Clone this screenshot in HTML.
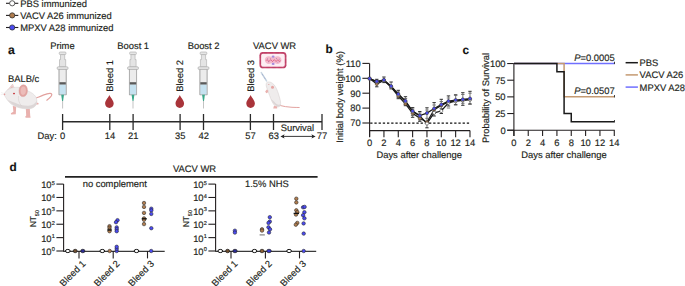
<!DOCTYPE html>
<html><head><meta charset="utf-8"><style>
html,body{margin:0;padding:0;background:#fff;}
body{width:685px;height:286px;overflow:hidden;}
svg{display:block;font-family:"Liberation Sans", sans-serif;text-rendering:geometricPrecision;}
text{stroke:#231f20;stroke-width:0.16px;}
</style></head><body>
<svg width="685" height="286" viewBox="0 0 685 286" font-family='"Liberation Sans", sans-serif'>
<rect width="685" height="286" fill="#fff"/>
<line x1="6" y1="3.3" x2="18.3" y2="3.3" stroke="#231f20" stroke-width="1.1" />
<circle cx="12.2" cy="3.3" r="2.6" fill="#fff" stroke="#333" stroke-width="0.8"/>
<text x="20.2" y="6.5" font-size="9.4" text-anchor="start" font-weight="normal" fill="#231f20" >PBS immunized</text>
<line x1="6" y1="15.399999999999999" x2="18.3" y2="15.399999999999999" stroke="#231f20" stroke-width="1.1" />
<circle cx="12.2" cy="15.399999999999999" r="2.6" fill="#b07d4f" stroke="#333" stroke-width="0.8"/>
<text x="20.2" y="18.599999999999998" font-size="9.4" text-anchor="start" font-weight="normal" fill="#231f20" >VACV A26 immunized</text>
<line x1="6" y1="27.5" x2="18.3" y2="27.5" stroke="#231f20" stroke-width="1.1" />
<circle cx="12.2" cy="27.5" r="2.6" fill="#4b4bf2" stroke="#333" stroke-width="0.8"/>
<text x="20.2" y="30.7" font-size="9.4" text-anchor="start" font-weight="normal" fill="#231f20" >MPXV A28 immunized</text>
<text x="8" y="54.4" font-size="12.2" text-anchor="start" font-weight="bold" fill="#111" >a</text>
<text x="8" y="81.5" font-size="9.4" text-anchor="start" font-weight="normal" fill="#231f20" >BALB/c</text>
<g stroke="#a9a9a9" stroke-width="0.6" fill="#e6e6e6">
<rect x="59.2" y="52" width="6.8" height="2.6" rx="1"/>
<path d="M60.5 54.6 L64.7 54.6 L64.7 59.6 L65.7 59.6 L65.7 66.8 L59.5 66.8 L59.5 59.6 L60.5 59.6 Z" fill="#e4e4e4"/>
<rect x="57.1" y="66.7" width="11" height="2.9" rx="1.3" fill="#e0e0e0"/>
<rect x="59.0" y="69.5" width="7.2" height="25.3" fill="#ececec"/>
</g>
<rect x="59.300000000000004" y="84.4" width="6.6" height="10.2" fill="#c6e2f0"/>
<rect x="59.300000000000004" y="82.2" width="6.6" height="2.3" fill="#5a5a5a"/>
<line x1="59.0" y1="69.5" x2="59.0" y2="94.8" stroke="#a0a0a0" stroke-width="0.6"/>
<line x1="66.2" y1="69.5" x2="66.2" y2="94.8" stroke="#a0a0a0" stroke-width="0.6"/>
<line x1="59.0" y1="94.8" x2="66.2" y2="94.8" stroke="#a0a0a0" stroke-width="0.6"/>
<path d="M61.2 94.8 L64.0 94.8 L63.1 101 L62.1 101 Z" fill="#3aa88a"/>
<line x1="62.6" y1="101" x2="62.6" y2="108.5" stroke="#9a9a9a" stroke-width="0.6" />
<text x="62.4" y="48.8" font-size="9.4" text-anchor="middle" font-weight="normal" fill="#231f20" >Prime</text>
<g stroke="#a9a9a9" stroke-width="0.6" fill="#e6e6e6">
<rect x="129.6" y="52" width="6.8" height="2.6" rx="1"/>
<path d="M130.9 54.6 L135.1 54.6 L135.1 59.6 L136.1 59.6 L136.1 66.8 L129.9 66.8 L129.9 59.6 L130.9 59.6 Z" fill="#e4e4e4"/>
<rect x="127.5" y="66.7" width="11" height="2.9" rx="1.3" fill="#e0e0e0"/>
<rect x="129.4" y="69.5" width="7.2" height="25.3" fill="#ececec"/>
</g>
<rect x="129.7" y="84.4" width="6.6" height="10.2" fill="#c6e2f0"/>
<rect x="129.7" y="82.2" width="6.6" height="2.3" fill="#5a5a5a"/>
<line x1="129.4" y1="69.5" x2="129.4" y2="94.8" stroke="#a0a0a0" stroke-width="0.6"/>
<line x1="136.6" y1="69.5" x2="136.6" y2="94.8" stroke="#a0a0a0" stroke-width="0.6"/>
<line x1="129.4" y1="94.8" x2="136.6" y2="94.8" stroke="#a0a0a0" stroke-width="0.6"/>
<path d="M131.6 94.8 L134.4 94.8 L133.5 101 L132.5 101 Z" fill="#3aa88a"/>
<line x1="133" y1="101" x2="133" y2="108.5" stroke="#9a9a9a" stroke-width="0.6" />
<text x="133.2" y="48.8" font-size="9.4" text-anchor="middle" font-weight="normal" fill="#231f20" >Boost 1</text>
<g stroke="#a9a9a9" stroke-width="0.6" fill="#e6e6e6">
<rect x="200.1" y="52" width="6.8" height="2.6" rx="1"/>
<path d="M201.4 54.6 L205.6 54.6 L205.6 59.6 L206.6 59.6 L206.6 66.8 L200.4 66.8 L200.4 59.6 L201.4 59.6 Z" fill="#e4e4e4"/>
<rect x="198.0" y="66.7" width="11" height="2.9" rx="1.3" fill="#e0e0e0"/>
<rect x="199.9" y="69.5" width="7.2" height="25.3" fill="#ececec"/>
</g>
<rect x="200.2" y="84.4" width="6.6" height="10.2" fill="#c6e2f0"/>
<rect x="200.2" y="82.2" width="6.6" height="2.3" fill="#5a5a5a"/>
<line x1="199.9" y1="69.5" x2="199.9" y2="94.8" stroke="#a0a0a0" stroke-width="0.6"/>
<line x1="207.1" y1="69.5" x2="207.1" y2="94.8" stroke="#a0a0a0" stroke-width="0.6"/>
<line x1="199.9" y1="94.8" x2="207.1" y2="94.8" stroke="#a0a0a0" stroke-width="0.6"/>
<path d="M202.1 94.8 L204.9 94.8 L204.0 101 L203.0 101 Z" fill="#3aa88a"/>
<line x1="203.5" y1="101" x2="203.5" y2="108.5" stroke="#9a9a9a" stroke-width="0.6" />
<text x="203.6" y="48.8" font-size="9.4" text-anchor="middle" font-weight="normal" fill="#231f20" >Boost 2</text>
<path d="M109.4 95 C110.4 97.5 113.7 100.5 113.7 103.6 C113.7 106.3 111.7 107.9 109.4 107.9 C107.10000000000001 107.9 105.10000000000001 106.3 105.10000000000001 103.6 C105.10000000000001 100.5 108.4 97.5 109.4 95 Z" fill="#a9343a"/>
<text transform="translate(112.7,91.8) rotate(-90)" font-size="9.4" fill="#231f20">Bleed 1</text>
<path d="M179.8 95 C180.8 97.5 184.10000000000002 100.5 184.10000000000002 103.6 C184.10000000000002 106.3 182.10000000000002 107.9 179.8 107.9 C177.5 107.9 175.5 106.3 175.5 103.6 C175.5 100.5 178.8 97.5 179.8 95 Z" fill="#a9343a"/>
<text transform="translate(183.10000000000002,91.8) rotate(-90)" font-size="9.4" fill="#231f20">Bleed 2</text>
<path d="M250.6 95 C251.6 97.5 254.9 100.5 254.9 103.6 C254.9 106.3 252.9 107.9 250.6 107.9 C248.29999999999998 107.9 246.29999999999998 106.3 246.29999999999998 103.6 C246.29999999999998 100.5 249.6 97.5 250.6 95 Z" fill="#a9343a"/>
<text transform="translate(253.9,91.8) rotate(-90)" font-size="9.4" fill="#231f20">Bleed 3</text>
<text x="274.6" y="49.3" font-size="9.4" text-anchor="middle" font-weight="normal" fill="#231f20" >VACV WR</text>
<rect x="260.3" y="52.9" width="25.3" height="14.6" rx="2.6" fill="#fdeef3" stroke="#cf4f76" stroke-width="1.6"/>
<rect x="260.3" y="52.9" width="25.3" height="14.6" rx="2.6" fill="none" stroke="#a3284f" stroke-width="1.6" stroke-dasharray="0.5 0.7" opacity="0.7"/>
<path d="M264.8 60 C264.8 57.6 266.6 56.2 268.8 56.2 C270.6 56.2 271.6 57.3 273.1 57.3 C274.6 57.3 275.6 56.2 277.4 56.2 C279.7 56.2 281.5 57.6 281.5 60 C281.5 62.4 279.7 63.9 277.4 63.9 C275.6 63.9 274.6 62.8 273.1 62.8 C271.6 62.8 270.6 63.9 268.8 63.9 C266.6 63.9 264.8 62.4 264.8 60 Z" fill="#f3b9cb"/>
<path d="M266.2 60.6 q0.9 -1.8 1.8 0 t1.8 0 t1.8 0 t1.8 0 t1.8 0 t1.8 0 t1.8 0 t1.6 0" fill="none" stroke="#d43d68" stroke-width="0.7"/>
<path d="M267 58.6 l1 0.5 M270 58.3 l0.8 0.6 M276 58.4 l1 0.4 M279 58.8 l0.7 0.6 M268 62 l0.8 -0.4 M277.5 62.3 l0.9 -0.4" stroke="#7a5aa8" stroke-width="0.5"/>
<ellipse cx="273.1" cy="56.7" rx="1.5" ry="1.1" fill="#a88bdc"/>
<ellipse cx="273.1" cy="63.9" rx="1.5" ry="1.1" fill="#a88bdc"/>
<line x1="62.6" y1="121.7" x2="322" y2="121.7" stroke="#2a2a2a" stroke-width="1.5" />
<line x1="62.6" y1="114" x2="62.6" y2="130" stroke="#2a2a2a" stroke-width="1.3" />
<line x1="109.8" y1="114" x2="109.8" y2="130" stroke="#2a2a2a" stroke-width="1.3" />
<line x1="133.1" y1="114" x2="133.1" y2="130" stroke="#2a2a2a" stroke-width="1.3" />
<line x1="180.1" y1="114" x2="180.1" y2="130" stroke="#2a2a2a" stroke-width="1.3" />
<line x1="203.5" y1="114" x2="203.5" y2="130" stroke="#2a2a2a" stroke-width="1.3" />
<line x1="250.4" y1="114" x2="250.4" y2="130" stroke="#2a2a2a" stroke-width="1.3" />
<line x1="273.5" y1="114" x2="273.5" y2="130" stroke="#2a2a2a" stroke-width="1.3" />
<line x1="322" y1="114" x2="322" y2="130" stroke="#2a2a2a" stroke-width="1.3" />
<text x="37.5" y="139.4" font-size="9.4" text-anchor="start" font-weight="normal" fill="#231f20" >Day:</text>
<text x="62.6" y="139.4" font-size="9.4" text-anchor="middle" font-weight="normal" fill="#231f20" >0</text>
<text x="110" y="139.4" font-size="9.4" text-anchor="middle" font-weight="normal" fill="#231f20" >14</text>
<text x="133.3" y="139.4" font-size="9.4" text-anchor="middle" font-weight="normal" fill="#231f20" >21</text>
<text x="180.3" y="139.4" font-size="9.4" text-anchor="middle" font-weight="normal" fill="#231f20" >35</text>
<text x="203.7" y="139.4" font-size="9.4" text-anchor="middle" font-weight="normal" fill="#231f20" >42</text>
<text x="250.4" y="139.4" font-size="9.4" text-anchor="middle" font-weight="normal" fill="#231f20" >57</text>
<text x="273.8" y="139.4" font-size="9.4" text-anchor="middle" font-weight="normal" fill="#231f20" >63</text>
<text x="322" y="139.4" font-size="9.4" text-anchor="middle" font-weight="normal" fill="#231f20" >77</text>
<text x="297.4" y="130.6" font-size="9.4" text-anchor="middle" font-weight="normal" fill="#231f20" >Survival</text>
<line x1="283" y1="136.4" x2="313" y2="136.4" stroke="#222" stroke-width="0.9" />
<path d="M280.4 136.4 L284.6 134.3 L283.6 136.4 L284.6 138.5 Z" fill="#222"/>
<path d="M315.6 136.4 L311.4 134.3 L312.4 136.4 L311.4 138.5 Z" fill="#222"/>

<g>
 <path d="M36.2 98 C40 96.5 44 94.8 47 93.9 C49.5 93.2 51.6 93.2 51.8 94.4 C52 95.8 50 97.8 46.8 100.2" fill="none" stroke="#e2a09d" stroke-width="1.2" stroke-linecap="round"/>
 <path d="M35 102.2 L38.6 103 L38.4 104.6 L35 104.6 Z" fill="#e9b1ae"/>
 <path d="M25.8 108.2 L26.2 115.6 L25 117 L26 117.8 L30.6 117.8 L30.2 115.6 L29.8 108.2 Z" fill="#e9b1ae"/>
 <path d="M12.8 106 L13.4 111.8 L10.8 113.2 L11.2 114.4 L15.8 114.3 L15.9 112 L16.2 106.6 Z" fill="#e9b1ae"/>
 <path d="M7.6 90 L12.6 84.1 L14.4 88.4 Z" fill="#f1dedd" stroke="#dcb2b0" stroke-width="0.45"/>
 <path d="M10 88.6 L12.3 85.5 L13 88 Z" fill="#e8b8b6"/>
 <path d="M4.2 94.2 C5 92 6.5 90.5 8.5 89.3 C11 87.8 15 87 18.5 87.3 C22 87.8 25 89.5 28 91 C31 92.3 34 94 35.8 96.8 C37.2 99 37.2 102.5 36 105 C34.5 107.5 32 108.6 29 108.8 C25 109 21 108.4 17.5 107.2 C14 106 11.5 104.5 9.5 102.5 C7.5 100.5 6 98 5 96.3 C4.6 95.6 4.2 95 4.2 94.2 Z" fill="#efecec" stroke="#d4cdcd" stroke-width="0.45"/>
 <path d="M7.5 99.8 C10 103 13.5 105.5 17.5 107 C21 108.3 25 108.9 29 108.7 C32 108.5 34.6 107.2 36 105 C36.6 103.6 36.9 102 36.9 100.5 C35.5 103.5 32.5 105.6 28.5 105.8 C24 106 19 104.6 15 102.8 C12 101.6 9.5 100.8 7.5 99.8 Z" fill="#dcd6d6"/>
 <path d="M18.5 96 C18 99.5 19 103 21.5 106" fill="none" stroke="#d2cbcb" stroke-width="0.5"/>
 <path d="M23.2 84.8 C26 84.6 27.6 87.5 27.4 91 C27.2 94.5 25.4 96.8 22.6 96.6 C20 96.4 18.8 93.5 19 90.5 C19.2 87.3 20.8 85 23.2 84.8 Z" fill="#e2a4a1" stroke="#d69592" stroke-width="0.4"/>
 <path d="M23.3 86.5 C25.2 86.5 26 88.6 25.9 91 C25.8 93.4 24.6 95 22.9 94.9 C21.2 94.8 20.5 92.8 20.6 90.6 C20.7 88.3 21.7 86.5 23.3 86.5 Z" fill="#ecbcb9"/>
 <ellipse cx="14" cy="93.6" rx="1.0" ry="0.8" fill="#c8343a"/>
 <circle cx="4.5" cy="94.4" r="0.8" fill="#e59c9c"/>
 <path d="M1 92.5 L4 93.5 M0.8 94.5 L3.8 94.6" stroke="#e0dada" stroke-width="0.35"/>
</g>

<g>
 <line x1="261.2" y1="72.5" x2="266.6" y2="81" stroke="#c9d6e2" stroke-width="1.4" stroke-linecap="round"/>
 <line x1="262.2" y1="74.2" x2="265.8" y2="79.8" stroke="#5a6aa8" stroke-width="0.55" stroke-dasharray="0.7 0.9"/>
 <path d="M279.5 105.4 C283 106.4 288 107.1 292 107.3 C295 107.4 297.5 107.5 299.2 107.5" fill="none" stroke="#e3a3a0" stroke-width="1" stroke-linecap="round"/>
 <path d="M266.8 82.5 C268 81.5 271 81.6 273.8 84.5 C276 87 277.5 90.5 278.8 95 C280 99 281.2 103 280.4 105.6 C279.5 107.2 277 107.3 275.5 106.3 C273 104.5 271.2 100 269.7 95.7 C268.5 92.5 267.3 89.5 266.5 87 C266 85.5 266 83.5 266.8 82.5 Z" fill="#efecec" stroke="#d2caca" stroke-width="0.5"/>
 <path d="M271 99 C273 103 275 105.5 277.5 106.5 C279.5 106.8 280.6 105.6 280.6 104 C279 105.5 276.5 104.5 274.5 102 Z" fill="#dcd6d6"/>
 <circle cx="272.5" cy="87.3" r="1.5" fill="#e6a5a3"/>
 <circle cx="268.9" cy="84.6" r="0.45" fill="#c83a3a"/>
 <path d="M266.8 89.5 L265.2 91.5 L266.2 93.3 L267.6 92.8 L268.4 90.8 Z" fill="#e9b1ae"/>
 <path d="M274 105.8 L273.2 108.4 L277.2 108.5 L277 106.4 Z" fill="#e9b1ae"/>
</g>
<text x="325.6" y="52.6" font-size="11.8" text-anchor="start" font-weight="bold" fill="#111" >b</text>
<text transform="translate(343.2,97) rotate(-90)" font-size="9.4" text-anchor="middle" fill="#231f20">Initial body weight (%)</text>
<line x1="369.6" y1="63.4" x2="369.6" y2="136.8" stroke="#231f20" stroke-width="1.1" />
<line x1="369.1" y1="130.6" x2="470" y2="130.6" stroke="#231f20" stroke-width="1.1" />
<line x1="362.4" y1="63.4" x2="369.6" y2="63.4" stroke="#231f20" stroke-width="1.1" />
<text x="360.8" y="66.7" font-size="9.4" text-anchor="end" font-weight="normal" fill="#231f20" >110</text>
<line x1="362.4" y1="78.3" x2="369.6" y2="78.3" stroke="#231f20" stroke-width="1.1" />
<text x="360.8" y="81.6" font-size="9.4" text-anchor="end" font-weight="normal" fill="#231f20" >100</text>
<line x1="362.4" y1="93.2" x2="369.6" y2="93.2" stroke="#231f20" stroke-width="1.1" />
<text x="360.8" y="96.5" font-size="9.4" text-anchor="end" font-weight="normal" fill="#231f20" >90</text>
<line x1="362.4" y1="108.1" x2="369.6" y2="108.1" stroke="#231f20" stroke-width="1.1" />
<text x="360.8" y="111.39999999999999" font-size="9.4" text-anchor="end" font-weight="normal" fill="#231f20" >80</text>
<line x1="362.4" y1="123.0" x2="369.6" y2="123.0" stroke="#231f20" stroke-width="1.1" />
<text x="360.8" y="126.3" font-size="9.4" text-anchor="end" font-weight="normal" fill="#231f20" >70</text>
<line x1="369.6" y1="130.6" x2="369.6" y2="137.2" stroke="#231f20" stroke-width="1.1" />
<text x="369.6" y="145.9" font-size="9.4" text-anchor="middle" font-weight="normal" fill="#231f20" >0</text>
<line x1="383.94" y1="130.6" x2="383.94" y2="137.2" stroke="#231f20" stroke-width="1.1" />
<text x="383.94" y="145.9" font-size="9.4" text-anchor="middle" font-weight="normal" fill="#231f20" >2</text>
<line x1="398.28000000000003" y1="130.6" x2="398.28000000000003" y2="137.2" stroke="#231f20" stroke-width="1.1" />
<text x="398.28000000000003" y="145.9" font-size="9.4" text-anchor="middle" font-weight="normal" fill="#231f20" >4</text>
<line x1="412.62" y1="130.6" x2="412.62" y2="137.2" stroke="#231f20" stroke-width="1.1" />
<text x="412.62" y="145.9" font-size="9.4" text-anchor="middle" font-weight="normal" fill="#231f20" >6</text>
<line x1="426.96000000000004" y1="130.6" x2="426.96000000000004" y2="137.2" stroke="#231f20" stroke-width="1.1" />
<text x="426.96000000000004" y="145.9" font-size="9.4" text-anchor="middle" font-weight="normal" fill="#231f20" >8</text>
<line x1="441.3" y1="130.6" x2="441.3" y2="137.2" stroke="#231f20" stroke-width="1.1" />
<text x="441.3" y="145.9" font-size="9.4" text-anchor="middle" font-weight="normal" fill="#231f20" >10</text>
<line x1="455.64" y1="130.6" x2="455.64" y2="137.2" stroke="#231f20" stroke-width="1.1" />
<text x="455.64" y="145.9" font-size="9.4" text-anchor="middle" font-weight="normal" fill="#231f20" >12</text>
<line x1="469.98" y1="130.6" x2="469.98" y2="137.2" stroke="#231f20" stroke-width="1.1" />
<text x="469.98" y="145.9" font-size="9.4" text-anchor="middle" font-weight="normal" fill="#231f20" >14</text>
<text x="419.2" y="158.3" font-size="9.4" text-anchor="middle" font-weight="normal" fill="#231f20" >Days after challenge</text>
<line x1="370.20000000000005" y1="123.2" x2="470" y2="123.2" stroke="#111" stroke-width="1.25" stroke-dasharray="2.3 1.9"/>
<line x1="376.77000000000004" y1="79.3" x2="376.77000000000004" y2="86.8" stroke="#8a8a8a" stroke-width="1.2" />
<line x1="375.07000000000005" y1="79.3" x2="378.47" y2="79.3" stroke="#1e1e1e" stroke-width="0.9" />
<line x1="375.07000000000005" y1="86.8" x2="378.47" y2="86.8" stroke="#1e1e1e" stroke-width="0.9" />
<line x1="383.94" y1="77.0" x2="383.94" y2="82.6" stroke="#8a8a8a" stroke-width="1.2" />
<line x1="382.24" y1="77.0" x2="385.64" y2="77.0" stroke="#1e1e1e" stroke-width="0.9" />
<line x1="382.24" y1="82.6" x2="385.64" y2="82.6" stroke="#1e1e1e" stroke-width="0.9" />
<line x1="391.11" y1="82.0" x2="391.11" y2="88.9" stroke="#8a8a8a" stroke-width="1.2" />
<line x1="389.41" y1="82.0" x2="392.81" y2="82.0" stroke="#1e1e1e" stroke-width="0.9" />
<line x1="389.41" y1="88.9" x2="392.81" y2="88.9" stroke="#1e1e1e" stroke-width="0.9" />
<line x1="398.28000000000003" y1="90.3" x2="398.28000000000003" y2="98.7" stroke="#8a8a8a" stroke-width="1.2" />
<line x1="396.58000000000004" y1="90.3" x2="399.98" y2="90.3" stroke="#1e1e1e" stroke-width="0.9" />
<line x1="396.58000000000004" y1="98.7" x2="399.98" y2="98.7" stroke="#1e1e1e" stroke-width="0.9" />
<line x1="396.58000000000004" y1="92.0" x2="399.98" y2="92.0" stroke="#6a6a6a" stroke-width="0.9" />
<line x1="396.58000000000004" y1="97.5" x2="399.98" y2="97.5" stroke="#6a6a6a" stroke-width="0.9" />
<line x1="405.45000000000005" y1="96.7" x2="405.45000000000005" y2="105.7" stroke="#8a8a8a" stroke-width="1.2" />
<line x1="403.75000000000006" y1="96.7" x2="407.15000000000003" y2="96.7" stroke="#1e1e1e" stroke-width="0.9" />
<line x1="403.75000000000006" y1="105.7" x2="407.15000000000003" y2="105.7" stroke="#1e1e1e" stroke-width="0.9" />
<line x1="403.75000000000006" y1="98.5" x2="407.15000000000003" y2="98.5" stroke="#6a6a6a" stroke-width="0.9" />
<line x1="403.75000000000006" y1="104.5" x2="407.15000000000003" y2="104.5" stroke="#6a6a6a" stroke-width="0.9" />
<line x1="412.62" y1="107.6" x2="412.62" y2="117.3" stroke="#8a8a8a" stroke-width="1.2" />
<line x1="410.92" y1="107.6" x2="414.32" y2="107.6" stroke="#1e1e1e" stroke-width="0.9" />
<line x1="410.92" y1="117.3" x2="414.32" y2="117.3" stroke="#1e1e1e" stroke-width="0.9" />
<line x1="410.92" y1="109" x2="414.32" y2="109" stroke="#6a6a6a" stroke-width="0.9" />
<line x1="410.92" y1="115.5" x2="414.32" y2="115.5" stroke="#6a6a6a" stroke-width="0.9" />
<line x1="419.79" y1="111.5" x2="419.79" y2="121.3" stroke="#8a8a8a" stroke-width="1.2" />
<line x1="418.09000000000003" y1="111.5" x2="421.49" y2="111.5" stroke="#1e1e1e" stroke-width="0.9" />
<line x1="418.09000000000003" y1="121.3" x2="421.49" y2="121.3" stroke="#1e1e1e" stroke-width="0.9" />
<line x1="418.09000000000003" y1="113" x2="421.49" y2="113" stroke="#6a6a6a" stroke-width="0.9" />
<line x1="418.09000000000003" y1="120" x2="421.49" y2="120" stroke="#6a6a6a" stroke-width="0.9" />
<line x1="426.96000000000004" y1="107.8" x2="426.96000000000004" y2="127.8" stroke="#8a8a8a" stroke-width="1.2" />
<line x1="425.26000000000005" y1="107.8" x2="428.66" y2="107.8" stroke="#1e1e1e" stroke-width="0.9" />
<line x1="425.26000000000005" y1="127.8" x2="428.66" y2="127.8" stroke="#1e1e1e" stroke-width="0.9" />
<line x1="425.26000000000005" y1="118.3" x2="428.66" y2="118.3" stroke="#6a6a6a" stroke-width="0.9" />
<line x1="425.26000000000005" y1="110" x2="428.66" y2="110" stroke="#6a6a6a" stroke-width="0.9" />
<line x1="434.13" y1="102.6" x2="434.13" y2="116.0" stroke="#8a8a8a" stroke-width="1.2" />
<line x1="432.43" y1="102.6" x2="435.83" y2="102.6" stroke="#1e1e1e" stroke-width="0.9" />
<line x1="432.43" y1="116.0" x2="435.83" y2="116.0" stroke="#1e1e1e" stroke-width="0.9" />
<line x1="432.43" y1="105" x2="435.83" y2="105" stroke="#6a6a6a" stroke-width="0.9" />
<line x1="432.43" y1="113.5" x2="435.83" y2="113.5" stroke="#6a6a6a" stroke-width="0.9" />
<line x1="441.3" y1="99.3" x2="441.3" y2="113.5" stroke="#8a8a8a" stroke-width="1.2" />
<line x1="439.6" y1="99.3" x2="443.0" y2="99.3" stroke="#1e1e1e" stroke-width="0.9" />
<line x1="439.6" y1="113.5" x2="443.0" y2="113.5" stroke="#1e1e1e" stroke-width="0.9" />
<line x1="439.6" y1="101.5" x2="443.0" y2="101.5" stroke="#6a6a6a" stroke-width="0.9" />
<line x1="439.6" y1="108.5" x2="443.0" y2="108.5" stroke="#6a6a6a" stroke-width="0.9" />
<line x1="448.47" y1="95.9" x2="448.47" y2="106.0" stroke="#8a8a8a" stroke-width="1.2" />
<line x1="446.77000000000004" y1="95.9" x2="450.17" y2="95.9" stroke="#1e1e1e" stroke-width="0.9" />
<line x1="446.77000000000004" y1="106.0" x2="450.17" y2="106.0" stroke="#1e1e1e" stroke-width="0.9" />
<line x1="446.77000000000004" y1="98" x2="450.17" y2="98" stroke="#6a6a6a" stroke-width="0.9" />
<line x1="446.77000000000004" y1="108" x2="450.17" y2="108" stroke="#6a6a6a" stroke-width="0.9" />
<line x1="455.64" y1="94.8" x2="455.64" y2="104.6" stroke="#8a8a8a" stroke-width="1.2" />
<line x1="453.94" y1="94.8" x2="457.34" y2="94.8" stroke="#1e1e1e" stroke-width="0.9" />
<line x1="453.94" y1="104.6" x2="457.34" y2="104.6" stroke="#1e1e1e" stroke-width="0.9" />
<line x1="453.94" y1="95.3" x2="457.34" y2="95.3" stroke="#6a6a6a" stroke-width="0.9" />
<line x1="453.94" y1="105" x2="457.34" y2="105" stroke="#6a6a6a" stroke-width="0.9" />
<line x1="462.81" y1="92.7" x2="462.81" y2="105.3" stroke="#8a8a8a" stroke-width="1.2" />
<line x1="461.11" y1="92.7" x2="464.51" y2="92.7" stroke="#1e1e1e" stroke-width="0.9" />
<line x1="461.11" y1="105.3" x2="464.51" y2="105.3" stroke="#1e1e1e" stroke-width="0.9" />
<line x1="461.11" y1="94.5" x2="464.51" y2="94.5" stroke="#6a6a6a" stroke-width="0.9" />
<line x1="461.11" y1="103.3" x2="464.51" y2="103.3" stroke="#6a6a6a" stroke-width="0.9" />
<line x1="469.98" y1="91.3" x2="469.98" y2="103.9" stroke="#8a8a8a" stroke-width="1.2" />
<line x1="468.28000000000003" y1="91.3" x2="471.68" y2="91.3" stroke="#1e1e1e" stroke-width="0.9" />
<line x1="468.28000000000003" y1="103.9" x2="471.68" y2="103.9" stroke="#1e1e1e" stroke-width="0.9" />
<line x1="468.28000000000003" y1="93.2" x2="471.68" y2="93.2" stroke="#6a6a6a" stroke-width="0.9" />
<line x1="468.28000000000003" y1="104.4" x2="471.68" y2="104.4" stroke="#6a6a6a" stroke-width="0.9" />
<polyline points="369.60,78.60 376.77,81.80 383.94,80.40 391.11,86.80 398.28,94.70 405.45,101.60 412.62,111.60 419.79,116.00 426.96,123.50 434.13,112.80 441.30,111.00 448.47,102.80 455.64,101.20 462.81,100.30 469.98,99.60" fill="none" stroke="#1a1a1a" stroke-width="1.25"/>
<polyline points="369.60,78.60 376.77,84.00 383.94,80.50 391.11,87.00 398.28,96.10 405.45,103.90 412.62,113.30 419.79,118.30 426.96,122.20 434.13,109.60 441.30,105.40 448.47,101.90 455.64,100.80 462.81,100.20 469.98,99.30" fill="none" stroke="#1a1a1a" stroke-width="1.25"/>
<polyline points="369.60,78.60 376.77,81.30 383.94,79.90 391.11,86.10 398.28,94.00 405.45,100.90 412.62,111.00 419.79,115.60 426.96,113.10 434.13,108.50 441.30,104.60 448.47,101.10 455.64,100.00 462.81,99.40 469.98,98.50" fill="none" stroke="#1a1a1a" stroke-width="1.25"/>
<circle cx="369.60" cy="78.6" r="1.6" fill="#b07d4f" stroke="#333" stroke-width="0.5"/>
<circle cx="376.77" cy="84.0" r="1.6" fill="#b07d4f" stroke="#333" stroke-width="0.5"/>
<circle cx="383.94" cy="80.5" r="1.6" fill="#b07d4f" stroke="#333" stroke-width="0.5"/>
<circle cx="391.11" cy="87.0" r="1.6" fill="#b07d4f" stroke="#333" stroke-width="0.5"/>
<circle cx="398.28" cy="96.1" r="1.6" fill="#b07d4f" stroke="#333" stroke-width="0.5"/>
<circle cx="405.45" cy="103.9" r="1.6" fill="#b07d4f" stroke="#333" stroke-width="0.5"/>
<circle cx="412.62" cy="113.3" r="1.6" fill="#b07d4f" stroke="#333" stroke-width="0.5"/>
<circle cx="419.79" cy="118.3" r="1.6" fill="#b07d4f" stroke="#333" stroke-width="0.5"/>
<circle cx="426.96" cy="122.2" r="1.6" fill="#b07d4f" stroke="#333" stroke-width="0.5"/>
<circle cx="434.13" cy="109.6" r="1.6" fill="#b07d4f" stroke="#333" stroke-width="0.5"/>
<circle cx="441.30" cy="105.4" r="1.6" fill="#b07d4f" stroke="#333" stroke-width="0.5"/>
<circle cx="448.47" cy="101.9" r="1.6" fill="#b07d4f" stroke="#333" stroke-width="0.5"/>
<circle cx="455.64" cy="100.8" r="1.6" fill="#b07d4f" stroke="#333" stroke-width="0.5"/>
<circle cx="462.81" cy="100.2" r="1.6" fill="#b07d4f" stroke="#333" stroke-width="0.5"/>
<circle cx="469.98" cy="99.3" r="1.6" fill="#b07d4f" stroke="#333" stroke-width="0.5"/>
<circle cx="369.60" cy="78.6" r="1.6" fill="#fff" stroke="#333" stroke-width="0.5"/>
<circle cx="376.77" cy="81.8" r="1.6" fill="#fff" stroke="#333" stroke-width="0.5"/>
<circle cx="383.94" cy="80.4" r="1.6" fill="#fff" stroke="#333" stroke-width="0.5"/>
<circle cx="391.11" cy="86.8" r="1.6" fill="#fff" stroke="#333" stroke-width="0.5"/>
<circle cx="398.28" cy="94.7" r="1.6" fill="#fff" stroke="#333" stroke-width="0.5"/>
<circle cx="405.45" cy="101.6" r="1.6" fill="#fff" stroke="#333" stroke-width="0.5"/>
<circle cx="412.62" cy="111.6" r="1.6" fill="#fff" stroke="#333" stroke-width="0.5"/>
<circle cx="419.79" cy="116.0" r="1.6" fill="#fff" stroke="#333" stroke-width="0.5"/>
<circle cx="426.96" cy="123.5" r="1.6" fill="#fff" stroke="#333" stroke-width="0.5"/>
<circle cx="434.13" cy="112.8" r="1.6" fill="#fff" stroke="#333" stroke-width="0.5"/>
<circle cx="441.30" cy="111.0" r="1.6" fill="#fff" stroke="#333" stroke-width="0.5"/>
<circle cx="448.47" cy="102.8" r="1.6" fill="#fff" stroke="#333" stroke-width="0.5"/>
<circle cx="455.64" cy="101.2" r="1.6" fill="#fff" stroke="#333" stroke-width="0.5"/>
<circle cx="462.81" cy="100.3" r="1.6" fill="#fff" stroke="#333" stroke-width="0.5"/>
<circle cx="469.98" cy="99.6" r="1.6" fill="#fff" stroke="#333" stroke-width="0.5"/>
<circle cx="369.60" cy="78.6" r="1.6" fill="#4b4bf2" stroke="#333" stroke-width="0.5"/>
<circle cx="376.77" cy="81.3" r="1.6" fill="#4b4bf2" stroke="#333" stroke-width="0.5"/>
<circle cx="383.94" cy="79.9" r="1.6" fill="#4b4bf2" stroke="#333" stroke-width="0.5"/>
<circle cx="391.11" cy="86.1" r="1.6" fill="#4b4bf2" stroke="#333" stroke-width="0.5"/>
<circle cx="398.28" cy="94.0" r="1.6" fill="#4b4bf2" stroke="#333" stroke-width="0.5"/>
<circle cx="405.45" cy="100.9" r="1.6" fill="#4b4bf2" stroke="#333" stroke-width="0.5"/>
<circle cx="412.62" cy="111.0" r="1.6" fill="#4b4bf2" stroke="#333" stroke-width="0.5"/>
<circle cx="419.79" cy="115.6" r="1.6" fill="#4b4bf2" stroke="#333" stroke-width="0.5"/>
<circle cx="426.96" cy="113.1" r="1.6" fill="#4b4bf2" stroke="#333" stroke-width="0.5"/>
<circle cx="434.13" cy="108.5" r="1.6" fill="#4b4bf2" stroke="#333" stroke-width="0.5"/>
<circle cx="441.30" cy="104.6" r="1.6" fill="#4b4bf2" stroke="#333" stroke-width="0.5"/>
<circle cx="448.47" cy="101.1" r="1.6" fill="#4b4bf2" stroke="#333" stroke-width="0.5"/>
<circle cx="455.64" cy="100.0" r="1.6" fill="#4b4bf2" stroke="#333" stroke-width="0.5"/>
<circle cx="462.81" cy="99.4" r="1.6" fill="#4b4bf2" stroke="#333" stroke-width="0.5"/>
<circle cx="469.98" cy="98.5" r="1.6" fill="#4b4bf2" stroke="#333" stroke-width="0.5"/>
<text x="462.4" y="53.8" font-size="11.8" text-anchor="start" font-weight="bold" fill="#111" >c</text>
<text transform="translate(488.8,98) rotate(-90)" font-size="9.4" text-anchor="middle" fill="#231f20">Probability of Survival</text>
<line x1="513.9" y1="63.2" x2="513.9" y2="136" stroke="#231f20" stroke-width="1.1" />
<line x1="507.2" y1="130.2" x2="614.8" y2="130.2" stroke="#231f20" stroke-width="1.1" />
<line x1="507.2" y1="63.53999999999999" x2="513.9" y2="63.53999999999999" stroke="#231f20" stroke-width="1.1" />
<text x="505.6" y="66.83999999999999" font-size="9.4" text-anchor="end" font-weight="normal" fill="#231f20" >100</text>
<line x1="507.2" y1="80.20499999999998" x2="513.9" y2="80.20499999999998" stroke="#231f20" stroke-width="1.1" />
<text x="505.6" y="83.50499999999998" font-size="9.4" text-anchor="end" font-weight="normal" fill="#231f20" >75</text>
<line x1="507.2" y1="96.86999999999999" x2="513.9" y2="96.86999999999999" stroke="#231f20" stroke-width="1.1" />
<text x="505.6" y="100.16999999999999" font-size="9.4" text-anchor="end" font-weight="normal" fill="#231f20" >50</text>
<line x1="507.2" y1="113.535" x2="513.9" y2="113.535" stroke="#231f20" stroke-width="1.1" />
<text x="505.6" y="116.835" font-size="9.4" text-anchor="end" font-weight="normal" fill="#231f20" >25</text>
<line x1="507.2" y1="130.2" x2="513.9" y2="130.2" stroke="#231f20" stroke-width="1.1" />
<text x="505.6" y="133.5" font-size="9.4" text-anchor="end" font-weight="normal" fill="#231f20" >0</text>
<line x1="513.9" y1="130.2" x2="513.9" y2="136" stroke="#231f20" stroke-width="1.1" />
<text x="513.9" y="145.9" font-size="9.4" text-anchor="middle" font-weight="normal" fill="#231f20" >0</text>
<line x1="528.24" y1="130.2" x2="528.24" y2="136" stroke="#231f20" stroke-width="1.1" />
<text x="528.24" y="145.9" font-size="9.4" text-anchor="middle" font-weight="normal" fill="#231f20" >2</text>
<line x1="542.5799999999999" y1="130.2" x2="542.5799999999999" y2="136" stroke="#231f20" stroke-width="1.1" />
<text x="542.5799999999999" y="145.9" font-size="9.4" text-anchor="middle" font-weight="normal" fill="#231f20" >4</text>
<line x1="556.92" y1="130.2" x2="556.92" y2="136" stroke="#231f20" stroke-width="1.1" />
<text x="556.92" y="145.9" font-size="9.4" text-anchor="middle" font-weight="normal" fill="#231f20" >6</text>
<line x1="571.26" y1="130.2" x2="571.26" y2="136" stroke="#231f20" stroke-width="1.1" />
<text x="571.26" y="145.9" font-size="9.4" text-anchor="middle" font-weight="normal" fill="#231f20" >8</text>
<line x1="585.6" y1="130.2" x2="585.6" y2="136" stroke="#231f20" stroke-width="1.1" />
<text x="585.6" y="145.9" font-size="9.4" text-anchor="middle" font-weight="normal" fill="#231f20" >10</text>
<line x1="599.9399999999999" y1="130.2" x2="599.9399999999999" y2="136" stroke="#231f20" stroke-width="1.1" />
<text x="599.9399999999999" y="145.9" font-size="9.4" text-anchor="middle" font-weight="normal" fill="#231f20" >12</text>
<line x1="614.28" y1="130.2" x2="614.28" y2="136" stroke="#231f20" stroke-width="1.1" />
<text x="614.28" y="145.9" font-size="9.4" text-anchor="middle" font-weight="normal" fill="#231f20" >14</text>
<text x="564" y="158.3" font-size="9.4" text-anchor="middle" font-weight="normal" fill="#231f20" >Days after challenge</text>
<polyline points="513.9,63.53999999999999 614.28,63.53999999999999" fill="none" stroke="#7070ff" stroke-width="1.5"/>
<polyline points="513.9,63.53999999999999 564.0899999999999,63.53999999999999 564.0899999999999,96.86999999999999 614.28,96.86999999999999" fill="none" stroke="#c49a72" stroke-width="1.5"/>
<polyline points="513.9,63.53999999999999 556.92,63.53999999999999 556.92,71.87249999999999 564.0899999999999,71.87249999999999 564.0899999999999,113.535 571.26,113.535 571.26,121.86749999999999 614.28,121.86749999999999" fill="none" stroke="#1a1a1a" stroke-width="1.5"/>
<line x1="614.48" y1="61.739999999999995" x2="614.48" y2="64.13999999999999" stroke="#222" stroke-width="0.9" />
<line x1="614.48" y1="95.07" x2="614.48" y2="97.46999999999998" stroke="#222" stroke-width="0.9" />
<line x1="614.48" y1="120.0675" x2="614.48" y2="122.46749999999999" stroke="#222" stroke-width="0.9" />
<text x="574.3" y="60.6" font-size="9.4" fill="#231f20"><tspan font-style="italic">P</tspan>=0.0005</text>
<text x="574.3" y="93.5" font-size="9.4" fill="#231f20"><tspan font-style="italic">P</tspan>=0.0507</text>
<line x1="625.6" y1="62.7" x2="637.9" y2="62.7" stroke="#1a1a1a" stroke-width="1.5" />
<text x="639.6" y="66.10000000000001" font-size="9.4" text-anchor="start" font-weight="normal" fill="#231f20" >PBS</text>
<line x1="625.6" y1="74.9" x2="637.9" y2="74.9" stroke="#c49a72" stroke-width="1.5" />
<text x="639.6" y="78.30000000000001" font-size="9.4" text-anchor="start" font-weight="normal" fill="#231f20" >VACV A26</text>
<line x1="625.6" y1="87.1" x2="637.9" y2="87.1" stroke="#7070ff" stroke-width="1.5" />
<text x="639.6" y="90.5" font-size="9.4" text-anchor="start" font-weight="normal" fill="#231f20" >MPXV A28</text>
<text x="9.6" y="170.7" font-size="11.8" text-anchor="start" font-weight="bold" fill="#111" >d</text>
<text x="194.5" y="171.7" font-size="9.4" text-anchor="middle" font-weight="normal" fill="#231f20" >VACV WR</text>
<line x1="65" y1="176.9" x2="317.6" y2="176.9" stroke="#222" stroke-width="1.7" />
<text x="82.7" y="187.2" font-size="9.4" text-anchor="start" font-weight="normal" fill="#231f20" >no complement</text>
<text x="245" y="186.9" font-size="9.4" text-anchor="start" font-weight="normal" fill="#231f20" >1.5% NHS</text>
<line x1="63.6" y1="184.1" x2="63.6" y2="251" stroke="#231f20" stroke-width="1.1" />
<line x1="63.1" y1="251.4" x2="164.7" y2="251.4" stroke="#3a3a3a" stroke-width="1.1" />
<line x1="56.4" y1="251.0" x2="63.6" y2="251.0" stroke="#231f20" stroke-width="1.1" />
<text x="51.6" y="254.9" font-size="9.4" text-anchor="end" fill="#231f20">10</text>
<text x="51.8" y="251.4" font-size="5.6" fill="#231f20">0</text>
<line x1="56.4" y1="237.62" x2="63.6" y2="237.62" stroke="#231f20" stroke-width="1.1" />
<text x="51.6" y="241.52" font-size="9.4" text-anchor="end" fill="#231f20">10</text>
<text x="51.8" y="238.02" font-size="5.6" fill="#231f20">1</text>
<line x1="56.4" y1="224.24" x2="63.6" y2="224.24" stroke="#231f20" stroke-width="1.1" />
<text x="51.6" y="228.14000000000001" font-size="9.4" text-anchor="end" fill="#231f20">10</text>
<text x="51.8" y="224.64000000000001" font-size="5.6" fill="#231f20">2</text>
<line x1="56.4" y1="210.86" x2="63.6" y2="210.86" stroke="#231f20" stroke-width="1.1" />
<text x="51.6" y="214.76000000000002" font-size="9.4" text-anchor="end" fill="#231f20">10</text>
<text x="51.8" y="211.26000000000002" font-size="5.6" fill="#231f20">3</text>
<line x1="56.4" y1="197.48" x2="63.6" y2="197.48" stroke="#231f20" stroke-width="1.1" />
<text x="51.6" y="201.38" font-size="9.4" text-anchor="end" fill="#231f20">10</text>
<text x="51.8" y="197.88" font-size="5.6" fill="#231f20">4</text>
<line x1="56.4" y1="184.1" x2="63.6" y2="184.1" stroke="#231f20" stroke-width="1.1" />
<text x="51.6" y="188.0" font-size="9.4" text-anchor="end" fill="#231f20">10</text>
<text x="51.8" y="184.5" font-size="5.6" fill="#231f20">5</text>
<line x1="79" y1="251" x2="79" y2="258.4" stroke="#231f20" stroke-width="1.1" />
<line x1="113.2" y1="251" x2="113.2" y2="258.4" stroke="#231f20" stroke-width="1.1" />
<line x1="147.5" y1="251" x2="147.5" y2="258.4" stroke="#231f20" stroke-width="1.1" />
<text transform="translate(36.3,227.3) rotate(-90)" font-size="8.5" fill="#231f20">NT<tspan font-size="5.5" dx="-0.2" dy="2.9">50</tspan></text>
<text transform="translate(86.1,264.4) rotate(-45)" font-size="9.4" text-anchor="end" fill="#231f20">Bleed 1</text>
<text transform="translate(120.3,264.4) rotate(-45)" font-size="9.4" text-anchor="end" fill="#231f20">Bleed 2</text>
<text transform="translate(154.6,264.4) rotate(-45)" font-size="9.4" text-anchor="end" fill="#231f20">Bleed 3</text>
<ellipse cx="67.8" cy="251" rx="2.35" ry="1.6" fill="#fff" stroke="#111" stroke-width="1.0"/>
<ellipse cx="75.2" cy="251" rx="2.0" ry="1.75" fill="#6e4e30" stroke="#1a1a1a" stroke-width="0.7"/>
<ellipse cx="82.8" cy="251" rx="2.1" ry="1.75" fill="#2c2c92" stroke="#1a1a1a" stroke-width="0.7"/>
<ellipse cx="102.3" cy="251" rx="2.35" ry="1.6" fill="#fff" stroke="#111" stroke-width="1.0"/>
<circle cx="109.7" cy="251" r="1.75" fill="#b07d4f" stroke="#222" stroke-width="0.55"/>
<circle cx="116.7" cy="251" r="1.75" fill="#4b4bf2" stroke="#222" stroke-width="0.55"/>
<circle cx="116.7" cy="248.8" r="1.75" fill="#4b4bf2" stroke="#222" stroke-width="0.55"/>
<circle cx="116.7" cy="246.8" r="1.75" fill="#4b4bf2" stroke="#222" stroke-width="0.55"/>
<circle cx="109.5" cy="226.2" r="1.75" fill="#b07d4f" stroke="#222" stroke-width="0.55"/>
<circle cx="109.5" cy="227.8" r="1.75" fill="#b07d4f" stroke="#222" stroke-width="0.55"/>
<circle cx="109.5" cy="229.7" r="1.75" fill="#b07d4f" stroke="#222" stroke-width="0.55"/>
<circle cx="109.5" cy="231.2" r="1.75" fill="#b07d4f" stroke="#222" stroke-width="0.55"/>
<circle cx="117.5" cy="220.2" r="1.75" fill="#4b4bf2" stroke="#222" stroke-width="0.55"/>
<circle cx="116" cy="222.2" r="1.75" fill="#4b4bf2" stroke="#222" stroke-width="0.55"/>
<circle cx="116.7" cy="227.4" r="1.75" fill="#4b4bf2" stroke="#222" stroke-width="0.55"/>
<circle cx="116.7" cy="229.2" r="1.75" fill="#4b4bf2" stroke="#222" stroke-width="0.55"/>
<circle cx="116.7" cy="231.2" r="1.75" fill="#4b4bf2" stroke="#222" stroke-width="0.55"/>
<ellipse cx="136.5" cy="251" rx="2.35" ry="1.6" fill="#fff" stroke="#111" stroke-width="1.0"/>
<circle cx="151.2" cy="251" r="1.75" fill="#4b4bf2" stroke="#222" stroke-width="0.55"/>
<circle cx="144" cy="203" r="1.75" fill="#b07d4f" stroke="#222" stroke-width="0.55"/>
<circle cx="144" cy="206.9" r="1.75" fill="#b07d4f" stroke="#222" stroke-width="0.55"/>
<circle cx="144" cy="212.9" r="1.75" fill="#b07d4f" stroke="#222" stroke-width="0.55"/>
<circle cx="144" cy="218.4" r="1.75" fill="#b07d4f" stroke="#222" stroke-width="0.55"/>
<circle cx="144" cy="219.8" r="1.75" fill="#b07d4f" stroke="#222" stroke-width="0.55"/>
<circle cx="144" cy="224.1" r="1.75" fill="#b07d4f" stroke="#222" stroke-width="0.55"/>
<circle cx="151.3" cy="208.7" r="1.75" fill="#4b4bf2" stroke="#222" stroke-width="0.55"/>
<circle cx="151.3" cy="210.4" r="1.75" fill="#4b4bf2" stroke="#222" stroke-width="0.55"/>
<circle cx="151.3" cy="213.9" r="1.75" fill="#4b4bf2" stroke="#222" stroke-width="0.55"/>
<circle cx="151.3" cy="228.2" r="1.75" fill="#4b4bf2" stroke="#222" stroke-width="0.55"/>
<line x1="215.6" y1="184.1" x2="215.6" y2="251" stroke="#231f20" stroke-width="1.1" />
<line x1="215.1" y1="251.4" x2="316.2" y2="251.4" stroke="#3a3a3a" stroke-width="1.1" />
<line x1="208.4" y1="251.0" x2="215.6" y2="251.0" stroke="#231f20" stroke-width="1.1" />
<text x="203.6" y="254.9" font-size="9.4" text-anchor="end" fill="#231f20">10</text>
<text x="203.79999999999998" y="251.4" font-size="5.6" fill="#231f20">0</text>
<line x1="208.4" y1="237.62" x2="215.6" y2="237.62" stroke="#231f20" stroke-width="1.1" />
<text x="203.6" y="241.52" font-size="9.4" text-anchor="end" fill="#231f20">10</text>
<text x="203.79999999999998" y="238.02" font-size="5.6" fill="#231f20">1</text>
<line x1="208.4" y1="224.24" x2="215.6" y2="224.24" stroke="#231f20" stroke-width="1.1" />
<text x="203.6" y="228.14000000000001" font-size="9.4" text-anchor="end" fill="#231f20">10</text>
<text x="203.79999999999998" y="224.64000000000001" font-size="5.6" fill="#231f20">2</text>
<line x1="208.4" y1="210.86" x2="215.6" y2="210.86" stroke="#231f20" stroke-width="1.1" />
<text x="203.6" y="214.76000000000002" font-size="9.4" text-anchor="end" fill="#231f20">10</text>
<text x="203.79999999999998" y="211.26000000000002" font-size="5.6" fill="#231f20">3</text>
<line x1="208.4" y1="197.48" x2="215.6" y2="197.48" stroke="#231f20" stroke-width="1.1" />
<text x="203.6" y="201.38" font-size="9.4" text-anchor="end" fill="#231f20">10</text>
<text x="203.79999999999998" y="197.88" font-size="5.6" fill="#231f20">4</text>
<line x1="208.4" y1="184.1" x2="215.6" y2="184.1" stroke="#231f20" stroke-width="1.1" />
<text x="203.6" y="188.0" font-size="9.4" text-anchor="end" fill="#231f20">10</text>
<text x="203.79999999999998" y="184.5" font-size="5.6" fill="#231f20">5</text>
<line x1="231" y1="251" x2="231" y2="258.4" stroke="#231f20" stroke-width="1.1" />
<line x1="265.4" y1="251" x2="265.4" y2="258.4" stroke="#231f20" stroke-width="1.1" />
<line x1="299.5" y1="251" x2="299.5" y2="258.4" stroke="#231f20" stroke-width="1.1" />
<text transform="translate(188.8,227.3) rotate(-90)" font-size="8.5" fill="#231f20">NT<tspan font-size="5.5" dx="-0.2" dy="2.9">50</tspan></text>
<text transform="translate(238.1,264.4) rotate(-45)" font-size="9.4" text-anchor="end" fill="#231f20">Bleed 1</text>
<text transform="translate(272.5,264.4) rotate(-45)" font-size="9.4" text-anchor="end" fill="#231f20">Bleed 2</text>
<text transform="translate(306.6,264.4) rotate(-45)" font-size="9.4" text-anchor="end" fill="#231f20">Bleed 3</text>
<ellipse cx="220.3" cy="251" rx="2.35" ry="1.6" fill="#fff" stroke="#111" stroke-width="1.0"/>
<ellipse cx="227.6" cy="251" rx="2.0" ry="1.75" fill="#6e4e30" stroke="#1a1a1a" stroke-width="0.7"/>
<ellipse cx="235.0" cy="251" rx="2.2" ry="1.75" fill="#2c2c92" stroke="#1a1a1a" stroke-width="0.7"/>
<circle cx="234.9" cy="230.7" r="1.75" fill="#4b4bf2" stroke="#222" stroke-width="0.55"/>
<circle cx="234.9" cy="232.6" r="1.75" fill="#4b4bf2" stroke="#222" stroke-width="0.55"/>
<ellipse cx="254.5" cy="251" rx="2.35" ry="1.6" fill="#fff" stroke="#111" stroke-width="1.0"/>
<ellipse cx="262" cy="251" rx="2.0" ry="1.75" fill="#8a5e36" stroke="#1a1a1a" stroke-width="0.7"/>
<ellipse cx="269" cy="251" rx="2.3" ry="1.75" fill="#3a3ad2" stroke="#1a1a1a" stroke-width="0.7"/>
<circle cx="262" cy="229.3" r="1.75" fill="#b07d4f" stroke="#222" stroke-width="0.55"/>
<circle cx="262" cy="230.6" r="1.75" fill="#b07d4f" stroke="#222" stroke-width="0.55"/>
<circle cx="269.8" cy="217.2" r="1.75" fill="#4b4bf2" stroke="#222" stroke-width="0.55"/>
<circle cx="269.8" cy="221.6" r="1.75" fill="#4b4bf2" stroke="#222" stroke-width="0.55"/>
<circle cx="268.5" cy="222.9" r="1.75" fill="#4b4bf2" stroke="#222" stroke-width="0.55"/>
<circle cx="268.5" cy="227.3" r="1.75" fill="#4b4bf2" stroke="#222" stroke-width="0.55"/>
<circle cx="270" cy="229.3" r="1.75" fill="#4b4bf2" stroke="#222" stroke-width="0.55"/>
<circle cx="269" cy="232.5" r="1.75" fill="#4b4bf2" stroke="#222" stroke-width="0.55"/>
<ellipse cx="289.1" cy="251" rx="2.35" ry="1.6" fill="#fff" stroke="#111" stroke-width="1.0"/>
<circle cx="303.7" cy="251" r="1.75" fill="#4b4bf2" stroke="#222" stroke-width="0.55"/>
<circle cx="296.3" cy="198.7" r="1.75" fill="#b07d4f" stroke="#222" stroke-width="0.55"/>
<circle cx="296.3" cy="202.4" r="1.75" fill="#b07d4f" stroke="#222" stroke-width="0.55"/>
<circle cx="296.3" cy="210.3" r="1.75" fill="#b07d4f" stroke="#222" stroke-width="0.55"/>
<circle cx="297.3" cy="212.2" r="1.75" fill="#b07d4f" stroke="#222" stroke-width="0.55"/>
<circle cx="296" cy="214.6" r="1.75" fill="#b07d4f" stroke="#222" stroke-width="0.55"/>
<circle cx="297.3" cy="222.9" r="1.75" fill="#b07d4f" stroke="#222" stroke-width="0.55"/>
<circle cx="295.8" cy="224.7" r="1.75" fill="#b07d4f" stroke="#222" stroke-width="0.55"/>
<circle cx="303.1" cy="207.3" r="1.75" fill="#4b4bf2" stroke="#222" stroke-width="0.55"/>
<circle cx="304.6" cy="206.9" r="1.75" fill="#4b4bf2" stroke="#222" stroke-width="0.55"/>
<circle cx="304.4" cy="212.2" r="1.75" fill="#4b4bf2" stroke="#222" stroke-width="0.55"/>
<circle cx="303.1" cy="215.2" r="1.75" fill="#4b4bf2" stroke="#222" stroke-width="0.55"/>
<circle cx="304.4" cy="218.3" r="1.75" fill="#4b4bf2" stroke="#222" stroke-width="0.55"/>
<circle cx="303.6" cy="223.4" r="1.75" fill="#4b4bf2" stroke="#222" stroke-width="0.55"/>
<circle cx="303.7" cy="233.6" r="1.75" fill="#4b4bf2" stroke="#222" stroke-width="0.55"/>
<line x1="141.8" y1="218.8" x2="146.8" y2="218.8" stroke="#111" stroke-width="1.3" />
<line x1="107.6" y1="230" x2="111.6" y2="230" stroke="#111" stroke-width="1.3" />
<line x1="259.6" y1="234.9" x2="264.8" y2="234.9" stroke="#777" stroke-width="1.1" />
<line x1="293.6" y1="213.4" x2="299" y2="213.4" stroke="#111" stroke-width="1.3" />
</svg>
</body></html>
